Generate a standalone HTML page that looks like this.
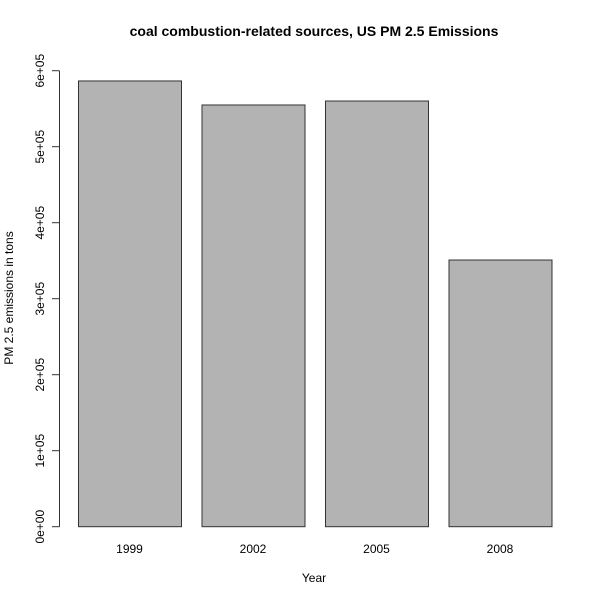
<!DOCTYPE html>
<html><head><meta charset="utf-8"><style>
body{margin:0;background:#fff}
svg{display:block;font-family:"Liberation Sans",Arial,sans-serif}
</style></head><body>
<svg id="chart" width="600" height="600">
<rect width="600" height="600" fill="#fff"/>
<text x="314" y="36" text-anchor="middle" font-size="14" font-weight="bold">coal combustion-related sources, US PM 2.5 Emissions</text>
<text x="314" y="582" text-anchor="middle" font-size="12">Year</text>
<text transform="translate(13,298) rotate(-90)" text-anchor="middle" font-size="12">PM 2.5 emissions in tons</text>
<g id="bars"></g>
<g id="yaxis"></g>
<g id="xlabels"></g>
</svg>
<script>
const categories = ["1999","2002","2005","2008"];
const values = [586500, 554900, 560100, 350900];
const yTicks = [0,100000,200000,300000,400000,500000,600000];
const yTickLabels = ["0e+00","1e+05","2e+05","3e+05","4e+05","5e+05","6e+05"];
const NS="http://www.w3.org/2000/svg";
const y0=526.7, pxPer=76/100000;
function yScale(v){return y0 - v*pxPer;}
function xLeft(i){return 78 + i*123.5;}
const bw=103;
function mk(t,a){const e=document.createElementNS(NS,t);for(const k in a)e.setAttribute(k,a[k]);return e;}
const bars=document.getElementById('bars'), ya=document.getElementById('yaxis'), xl=document.getElementById('xlabels');
values.forEach((v,i)=>{
  const r=mk('rect',{x:xLeft(i)+0.5,y:yScale(v),width:bw,height:y0-yScale(v),fill:'#b3b3b3',stroke:'#333','stroke-width':1});
  
  
  bars.appendChild(r);
  const t=mk('text',{x:xLeft(i)+bw/2,y:553,'text-anchor':'middle','font-size':12});
  t.textContent=categories[i];
  
  
  xl.appendChild(t);
});
const ax=mk('line',{x1:59.5,x2:59.5,y1:yScale(yTicks[yTicks.length-1]),y2:yScale(0),stroke:'#333'});


ya.appendChild(ax);
yTicks.forEach((v,i)=>{
  const y=yScale(v);
  const l=mk('line',{x1:52,x2:59.5,y1:y,y2:y,stroke:'#333'});
  
  
  ya.appendChild(l);
  const t=mk('text',{transform:'translate(44,'+y+') rotate(-90)','text-anchor':'middle','font-size':12});
  t.textContent=yTickLabels[i];
  
  
  ya.appendChild(t);
});
</script>
</body></html>
